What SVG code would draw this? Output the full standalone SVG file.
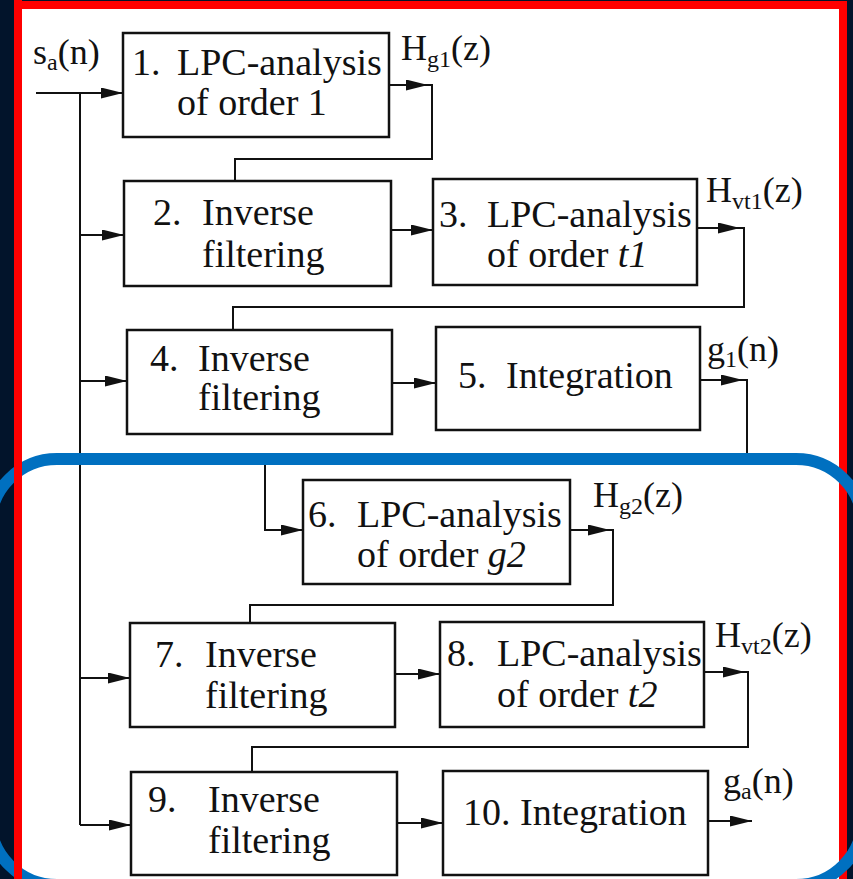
<svg xmlns="http://www.w3.org/2000/svg" width="853" height="879" viewBox="0 0 853 879">
<defs>
<style>
.box{fill:none;stroke:#111;stroke-width:2.5}
.ln{fill:none;stroke:#111;stroke-width:2}
.t{font-family:"Liberation Serif","Times New Roman",serif;font-size:38px;fill:#111}
.lb{font-family:"Liberation Serif","Times New Roman",serif;font-size:36px;fill:#111}
.sub{font-size:24px}
.it{font-style:italic}
</style>
<marker id="ah" markerUnits="userSpaceOnUse" markerWidth="22" markerHeight="11" refX="22" refY="5.5" orient="auto">
<path d="M0,0 L22,5.5 L0,11 Z" fill="#111"/>
</marker>
</defs>
<rect x="0" y="0" width="853" height="879" fill="#02142b"/>
<rect x="18" y="5" width="825" height="900" fill="#ffffff" stroke="#ff0000" stroke-width="8"/>

<g id="connectors">
<path class="ln" d="M36,93 H123" marker-end="url(#ah)"/>
<path class="ln" d="M80,93 V825"/>
<path class="ln" d="M80,235 H124" marker-end="url(#ah)"/>
<path class="ln" d="M80,381 H127" marker-end="url(#ah)"/>
<path class="ln" d="M80,678 H130" marker-end="url(#ah)"/>
<path class="ln" d="M80,825 H131" marker-end="url(#ah)"/>
<path class="ln" d="M389,85 H428" marker-end="url(#ah)"/>
<path class="ln" d="M427,85 H432 V159 H235 V181"/>
<path class="ln" d="M391,230 H433" marker-end="url(#ah)"/>
<path class="ln" d="M697,228 H740" marker-end="url(#ah)"/>
<path class="ln" d="M739,228 H744 V307 H233 V330"/>
<path class="ln" d="M392,383 H436" marker-end="url(#ah)"/>
<path class="ln" d="M700,380 H743" marker-end="url(#ah)"/>
<path class="ln" d="M742,380 H747 V459 H265 V530 H303" marker-end="url(#ah)"/>
<path class="ln" d="M570,530 H610" marker-end="url(#ah)"/>
<path class="ln" d="M609,530 H613 V605 H250 V623"/>
<path class="ln" d="M395,674 H440" marker-end="url(#ah)"/>
<path class="ln" d="M704,672 H745" marker-end="url(#ah)"/>
<path class="ln" d="M744,672 H748 V747 H252 V772"/>
<path class="ln" d="M397,823 H443" marker-end="url(#ah)"/>
<path class="ln" d="M708,821 H752" marker-end="url(#ah)"/>
</g>

<g id="labels">
<text class="lb" x="33" y="64">s<tspan class="sub" dy="6">a</tspan><tspan dy="-6">(n)</tspan></text>
<text class="lb" x="401" y="60">H<tspan class="sub" dy="7">g1</tspan><tspan dy="-7">(z)</tspan></text>
<text class="lb" x="706" y="202">H<tspan class="sub" dy="7">vt1</tspan><tspan dy="-7">(z)</tspan></text>
<text class="lb" x="707" y="361">g<tspan class="sub" dy="6">1</tspan><tspan dy="-6">(n)</tspan></text>
<text class="lb" x="593" y="507">H<tspan class="sub" dy="7">g2</tspan><tspan dy="-7">(z)</tspan></text>
<text class="lb" x="715" y="647">H<tspan class="sub" dy="7">vt2</tspan><tspan dy="-7">(z)</tspan></text>
<text class="lb" x="723" y="793">g<tspan class="sub" dy="6">a</tspan><tspan dy="-6">(n)</tspan></text>
</g>

<g id="n1">
<rect class="box" x="123" y="33" width="266" height="104"/>
<text class="t" x="132" y="75">1.</text>
<text class="t" x="177" y="75">LPC-analysis</text>
<text class="t" x="177" y="115">of order 1</text>
</g>
<g id="n2">
<rect class="box" x="124" y="181" width="267" height="105"/>
<text class="t" x="153" y="225">2.</text>
<text class="t" x="202" y="225">Inverse</text>
<text class="t" x="202" y="267">filtering</text>
</g>
<g id="n3">
<rect class="box" x="433" y="179" width="264" height="106"/>
<text class="t" x="439" y="227">3.</text>
<text class="t" x="487" y="227">LPC-analysis</text>
<text class="t" x="487" y="267">of order <tspan class="it">t1</tspan></text>
</g>
<g id="n4">
<rect class="box" x="127" y="330" width="265" height="104"/>
<text class="t" x="150" y="371">4.</text>
<text class="t" x="198" y="371">Inverse</text>
<text class="t" x="198" y="410">filtering</text>
</g>
<g id="n5">
<rect class="box" x="436" y="327" width="264" height="103"/>
<text class="t" x="458" y="388">5.</text>
<text class="t" x="506" y="388">Integration</text>
</g>
<g id="n6">
<rect class="box" x="303" y="480" width="267" height="104"/>
<text class="t" x="308" y="527">6.</text>
<text class="t" x="357" y="527">LPC-analysis</text>
<text class="t" x="357" y="567">of order <tspan class="it">g2</tspan></text>
</g>
<g id="n7">
<rect class="box" x="130" y="623" width="265" height="104"/>
<text class="t" x="155" y="667">7.</text>
<text class="t" x="205" y="667">Inverse</text>
<text class="t" x="205" y="708">filtering</text>
</g>
<g id="n8">
<rect class="box" x="440" y="622" width="264" height="105"/>
<text class="t" x="447" y="666">8.</text>
<text class="t" x="497" y="666">LPC-analysis</text>
<text class="t" x="497" y="707">of order <tspan class="it">t2</tspan></text>
</g>
<g id="n9">
<rect class="box" x="131" y="772" width="266" height="103"/>
<text class="t" x="148" y="812">9.</text>
<text class="t" x="208" y="812">Inverse</text>
<text class="t" x="208" y="853">filtering</text>
</g>
<g id="n10">
<rect class="box" x="443" y="771" width="265" height="104"/>
<text class="t" x="463" y="825">10.</text>
<text class="t" x="520" y="825">Integration</text>
</g>

<rect x="-10" y="459" width="873" height="426" rx="67" ry="67" fill="none" stroke="#0070c0" stroke-width="12"/>
<line x1="18" y1="0" x2="18" y2="879" stroke="#ff0000" stroke-width="8"/>
</svg>
